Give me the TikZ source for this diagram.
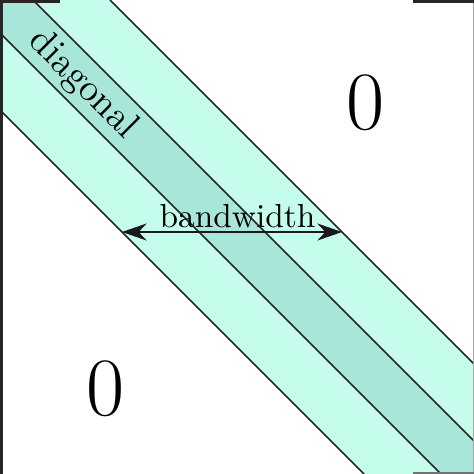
\documentclass[tikz,border=0pt]{standalone}
\usetikzlibrary{arrows.meta}
\definecolor{bandlight}{RGB}{197,253,237}
\definecolor{banddark}{RGB}{168,230,218}
\tikzset{
  edge/.style={draw=black!85, line width=0.45pt},
  bracket/.style={draw=black!85, line width=0.9pt},
  faint/.style={draw=black!35, line width=0.4pt},
  zero/.style={font=\Huge, inner sep=0pt},
  lbl/.style={font=\normalsize, inner sep=0pt},
  dim/.style={draw=black!90, line width=0.6pt, {Stealth[length=2.6mm,width=1.8mm]}-{Stealth[length=2.6mm,width=1.8mm]}}
}
\begin{document}
\begin{tikzpicture}[x=0.3pt,y=-0.3pt]
\useasboundingbox (0,0) rectangle (474,474);
% band
\fill[bandlight] (0,0) -- (110,0) -- (474,364) -- (474,474) -- (364,474) -- (0,110) -- cycle;
\fill[banddark] (0,0) -- (33,0) -- (474,441) -- (474,474) -- (441,474) -- (0,33) -- cycle;
\draw[edge] (110,0) -- (474,364);
\draw[edge] (0,110) -- (364,474);
\draw[edge] (33,0) -- (474,441);
\draw[edge] (0,33) -- (441,474);
% matrix brackets
\draw[bracket] (60,1.5) -- (1.5,1.5) -- (1.5,474);
\draw[bracket] (413,1.5) -- (474,1.5);
\draw[faint] (473.3,3) -- (473.3,474);
\draw[draw=black!55, line width=0.5pt] (413,473.2) -- (474,473.2);
% labels
\node[lbl, font=\fontsize{11.5}{14}\selectfont, rotate=-45] (diag) at (83,85) {diagonal};
\node[zero] (zeroTR) at (365.5,103) {0};
\node[zero] (zeroBL) at (106,389) {0};
% bandwidth
\coordinate (bwL) at (122,232);
\coordinate (bwR) at (342,232);
\draw[dim] (bwL) -- (bwR);
\node[lbl, anchor=base] (bw) at (237.5,227) {bandwidth};
\end{tikzpicture}
\end{document}
